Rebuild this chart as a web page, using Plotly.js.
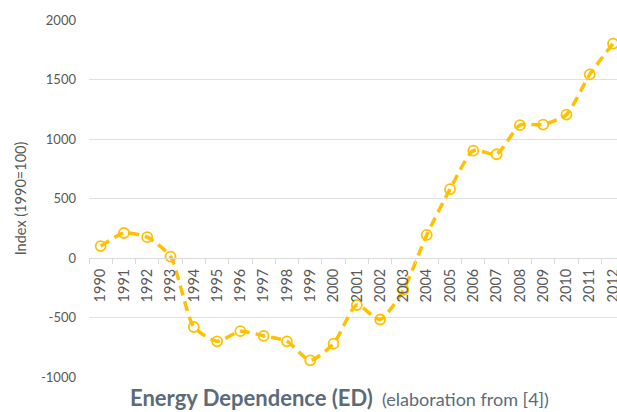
<!DOCTYPE html>
<html>
<head>
<meta charset="utf-8">
<script src="https://cdn.plot.ly/plotly-3.0.1.min.js"></script>
<style>
html,body{margin:0;padding:0;overflow:hidden;background:#fff;}
#chart{width:617px;height:412px;}
</style>
</head>
<body>
<div id="chart"></div>
<script>
const years = ["1990","1991","1992","1993","1994","1995","1996","1997","1998","1999","2000","2001","2002","2003","2004","2005","2006","2007","2008","2009","2010","2011","2012"];
const edIndex = [100, 210, 175, 12, -580, -700, -615, -655, -700, -860, -720, -395, -517, -268, 194, 578, 902, 872, 1116, 1121, 1205, 1543, 1802];
const yTicks = [-1000, -500, 0, 500, 1000, 1500, 2000];

const gold = '#FFC000';
const textGray = '#595959';
const fontFam = 'Lato, "Open Sans", sans-serif';

const domainY = [0, 1];
const yRange = [-1000, 2000];
const zeroPos = domainY[0] + (0 - yRange[0]) / (yRange[1] - yRange[0]) * (domainY[1] - domainY[0]);

const trace = {
  x: years,
  y: edIndex,
  type: 'scatter',
  mode: 'lines+markers',
  line: {color: gold, width: 3.5, dash: '10px,6px', shape: 'spline', smoothing: 0.6},
  marker: {symbol: 'circle-open', size: 10, color: gold, line: {width: 1.8, color: gold}},
  hoverinfo: 'x+y',
  cliponaxis: true
};

const layout = {
  width: 617,
  height: 412,
  margin: {l: 89, r: 0, t: 20, b: 35},
  paper_bgcolor: '#ffffff',
  plot_bgcolor: '#ffffff',
  showlegend: false,
  font: {family: fontFam, color: textGray},
  xaxis: {
    type: 'category',
    range: [-0.5, 22.17],
    anchor: 'free',
    position: zeroPos,
    showgrid: false,
    zeroline: false,
    showline: true,
    linecolor: '#d9d9d9',
    linewidth: 1,
    ticks: 'outside',
    tickson: 'boundaries',
    ticklen: 5,
    tickcolor: '#d9d9d9',
    tickangle: -90,
    ticklabelstandoff: 4,
    tickfont: {size: 14.5, color: textGray, family: fontFam},
    fixedrange: true
  },
  yaxis: {
    domain: domainY,
    range: yRange,
    tickvals: yTicks,
    ticktext: yTicks.map(String),
    showgrid: true,
    gridcolor: '#e0e0e0',
    gridwidth: 1,
    zeroline: false,
    showline: false,
    ticks: '',
    ticklabelstandoff: 12,
    tickfont: {size: 13, color: textGray, family: fontFam},
    title: {text: 'Index (1990=100)', font: {size: 14.5, color: textGray, family: fontFam}, standoff: 10},
    fixedrange: true
  },
  annotations: [{
    xref: 'paper', yref: 'paper',
    x: 0.475, y: 0,
    xanchor: 'center', yanchor: 'top',
    yshift: -5,
    showarrow: false,
    text: '<b>Energy Dependence (ED)</b><span style="font-size:18px">  (elaboration from [4])</span>',
    font: {size: 22, color: '#5b6b78', family: fontFam}
  }]
};

Plotly.newPlot('chart', [trace], layout, {displayModeBar: false, staticPlot: true});
</script>
</body>
</html>
